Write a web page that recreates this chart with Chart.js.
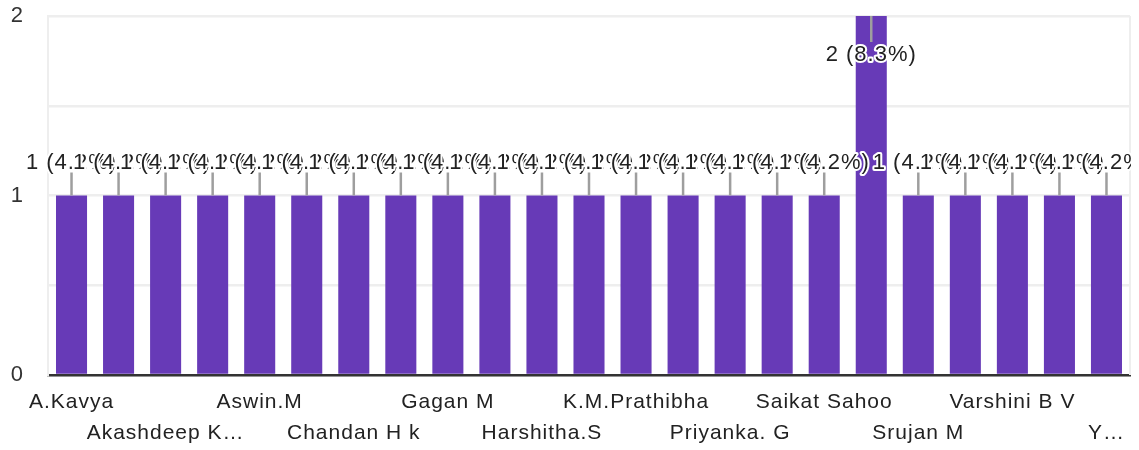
<!DOCTYPE html>
<html>
<head>
<meta charset="utf-8">
<script src="https://cdn.jsdelivr.net/npm/chart.js@4"></script>
<style>
  body { margin: 0; background: #fff; }
  #wrap { width: 1139px; height: 450px; }
</style>
</head>
<body>
<div id="wrap"><canvas id="myChart" width="1139" height="450"></canvas></div>
<script>
// respondent names (only every second one is printed on the axis)
var names = ['A.Kavya', 'Aishwarya R', 'Akashdeep Kumar', 'Ananya S', 'Aswin.M', 'Bhavana K',
    'Chandan H k', 'Deepak R', 'Gagan M', 'Harish N', 'Harshitha.S', 'Jeevan K',
    'K.M.Prathibha', 'Manoj P', 'Priyanka. G', 'Rahul D', 'Saikat Sahoo', 'Shreya N',
    'Srujan M', 'Sushma K', 'Varshini B V', 'Vinay R', 'Yashwanth K'];
var counts = [1, 1, 1, 1, 1, 1, 1, 1, 1, 1, 1, 1, 1, 1, 1, 1, 1, 2, 1, 1, 1, 1, 1];
var yTicks = [0, 1, 2];

var FONT = '"Liberation Sans", Arial, sans-serif';
var SPACING = '1px';
var total = counts.reduce(function (a, b) { return a + b; }, 0);

var measure = document.createElement('canvas').getContext('2d');
measure.font = '21px ' + FONT;
measure.letterSpacing = SPACING;
function fit(text, maxW) {
    if (measure.measureText(text).width <= maxW) return text;
    var s = text;
    while (s.length > 1 && measure.measureText(s + '\u2026').width > maxW) s = s.slice(0, -1);
    return s.trim() + '\u2026';
}

// slightly wider text, like the original rendering
var spacing = {
    id: 'spacing',
    beforeUpdate: function (chart) { chart.ctx.letterSpacing = SPACING; },
    beforeDraw: function (chart) { chart.ctx.letterSpacing = SPACING; }
};

// value labels with leader lines, drawn bar by bar so later ones overlap earlier ones
var valueLabels = {
    id: 'valueLabels',
    afterDatasetsDraw: function (chart) {
        var ctx = chart.ctx;
        var meta = chart.getDatasetMeta(0);
        var area = chart.chartArea;
        ctx.save();
        ctx.beginPath();
        ctx.rect(0, 0, area.right + 1, chart.height);
        ctx.clip();
        ctx.font = '22px ' + FONT;
        ctx.letterSpacing = SPACING;
        ctx.textAlign = 'center';
        ctx.textBaseline = 'middle';
        meta.data.forEach(function (bar, i) {
            var v = counts[i];
            var txt = v + ' (' + (v / total * 100).toFixed(1) + '%)';
            var top = bar.y;
            var inside = top - area.top < 30;
            var y1 = inside ? top : top - 23;
            var y2 = inside ? top + 26 : top;
            var ty = inside ? top + 39 : top - 33;
            ctx.strokeStyle = '#9e9e9e';
            ctx.lineWidth = 2.5;
            ctx.beginPath();
            ctx.moveTo(bar.x, y1);
            ctx.lineTo(bar.x, y2);
            ctx.stroke();
            ctx.lineJoin = 'round';
            ctx.strokeStyle = '#ffffff';
            ctx.lineWidth = 4;
            ctx.strokeText(txt, bar.x, ty);
            ctx.fillStyle = '#222222';
            ctx.fillText(txt, bar.x, ty);
        });
        ctx.restore();
    }
};

var rightBorder = {
    id: 'rightBorder',
    beforeDatasetsDraw: function (chart) {
        var a = chart.chartArea;
        var ctx = chart.ctx;
        ctx.save();
        ctx.strokeStyle = '#eeeeee';
        ctx.lineWidth = 2;
        ctx.beginPath();
        ctx.moveTo(a.right, a.top);
        ctx.lineTo(a.right, a.bottom);
        ctx.stroke();
        ctx.restore();
    }
};

function noPad(scale) {
    scale.paddingTop = 0;
    scale.paddingBottom = 0;
    scale.paddingLeft = 0;
    scale.paddingRight = 0;
}

var ctx = document.getElementById('myChart').getContext('2d');
var myChart = new Chart(ctx, {
    type: 'bar',
    data: {
        labels: names,
        datasets: [{
            data: counts,
            backgroundColor: '#673ab7',
            barPercentage: 0.66,
            categoryPercentage: 1
        }]
    },
    options: {
        responsive: false,
        animation: false,
        layout: { padding: { left: 0, right: 9, top: 16, bottom: 0 } },
        plugins: {
            legend: { display: false },
            tooltip: { enabled: false }
        },
        scales: {
            x: {
                afterFit: function (scale) { noPad(scale); scale.height = 75; },
                grid: { display: false, drawTicks: false },
                border: { display: true, color: '#333333', width: 2.5 },
                ticks: {
                    autoSkip: false,
                    maxRotation: 0,
                    minRotation: 0,
                    padding: 11,
                    color: '#222222',
                    font: { family: FONT, size: 21, lineHeight: 1.5 },
                    callback: function (value, index) {
                        if (index % 2 === 1) return '';
                        var maxW = index === names.length - 1 ? 44 : 166;
                        var lbl = fit(names[index], maxW);
                        return (index / 2) % 2 === 0 ? lbl : ['', lbl];
                    }
                }
            },
            y: {
                min: 0,
                max: 2,
                afterFit: function (scale) { noPad(scale); scale.width = 48; },
                grid: { color: '#eeeeee', lineWidth: 2.5, drawTicks: false },
                border: { display: true, color: '#eeeeee', width: 2 },
                ticks: {
                    stepSize: 0.5,
                    padding: 24,
                    color: '#333333',
                    font: { family: FONT, size: 22 },
                    callback: function (value) {
                        return yTicks.indexOf(value) >= 0 ? value : '';
                    }
                }
            }
        }
    },
    plugins: [spacing, rightBorder, valueLabels]
});
</script>
</body>
</html>
